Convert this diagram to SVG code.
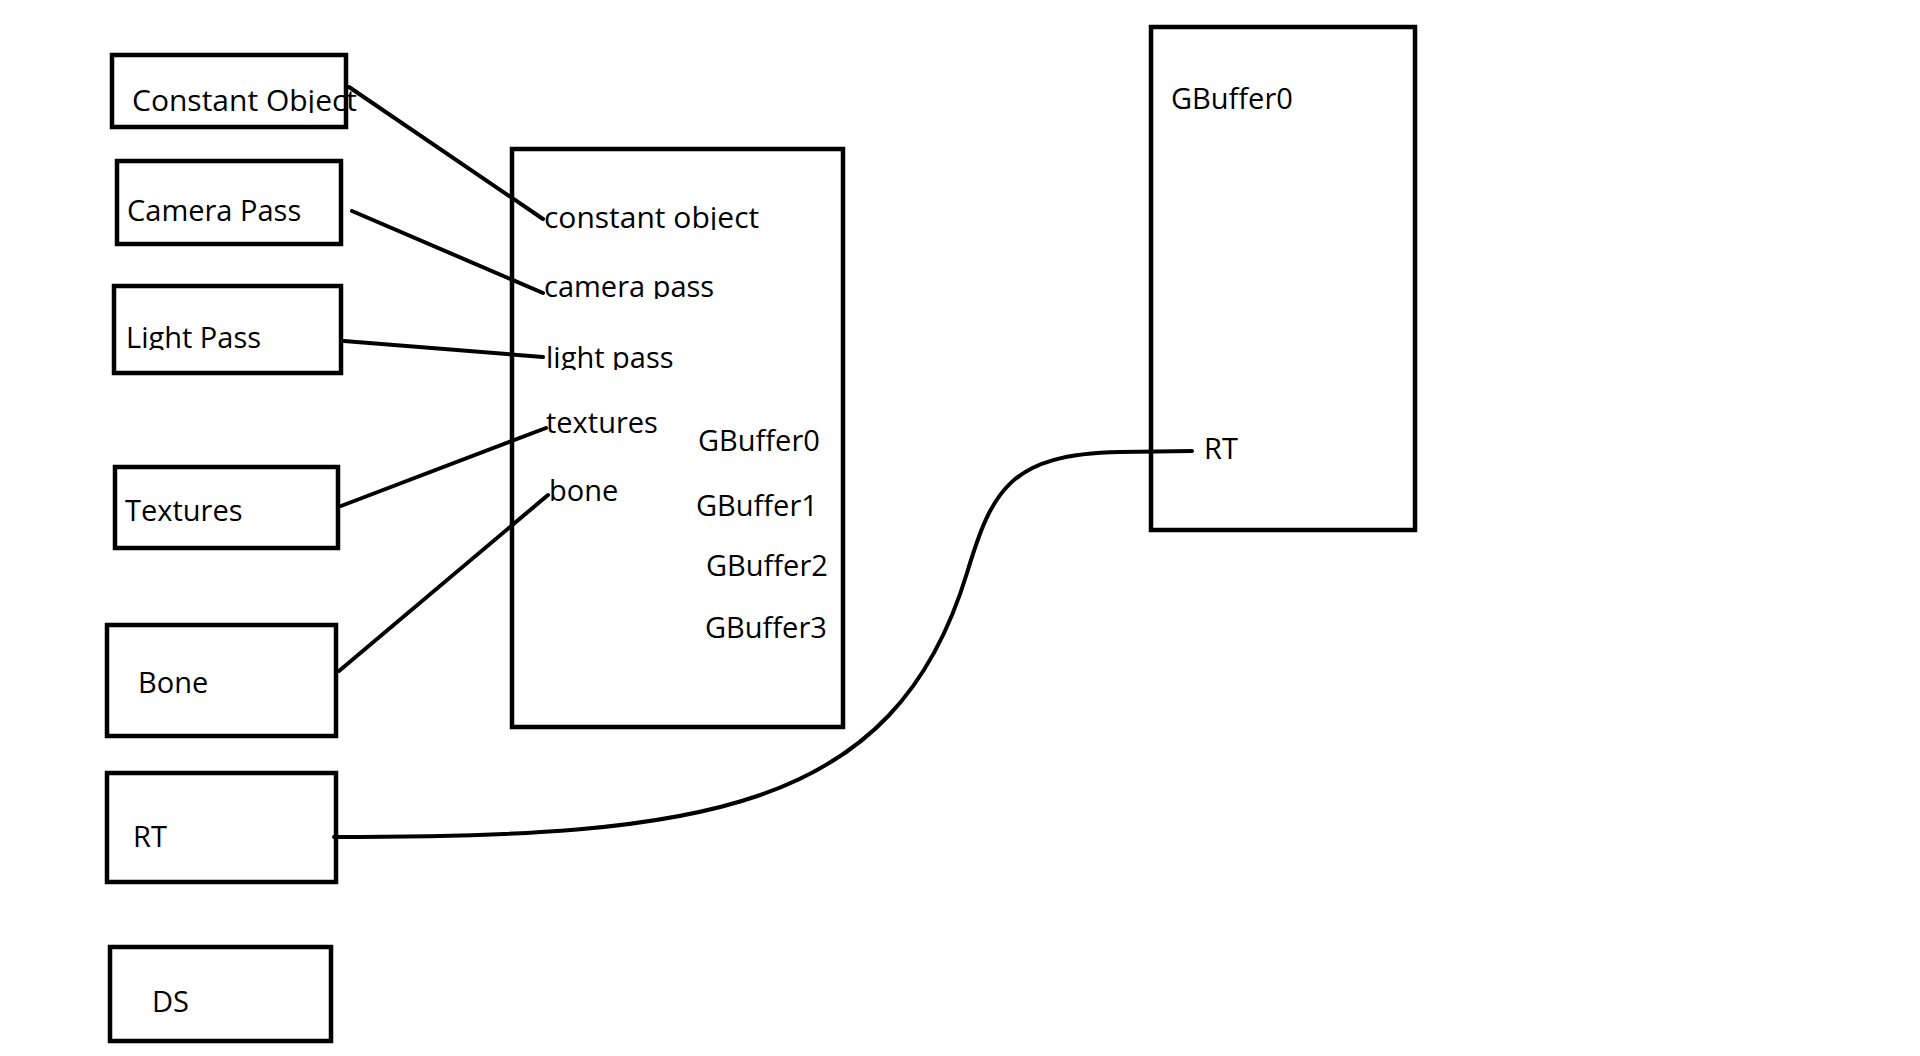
<svg xmlns="http://www.w3.org/2000/svg" width="1920" height="1056" viewBox="0 0 1920 1056">
<style>
.box{fill:none;stroke:#000;stroke-width:4.5}
.ln{fill:none;stroke:#000;stroke-width:4;stroke-linecap:round}
text{font-family:"Open Sans","Noto Sans","Liberation Sans",sans-serif;font-size:29px;fill:#000}
.w{font-size:30px}
</style>
<defs>
<clipPath id="c1"><rect x="100" y="60" width="300" height="53"/></clipPath>
<clipPath id="c2"><rect x="100" y="180" width="250" height="119"/></clipPath>
<clipPath id="c3"><rect x="100" y="300" width="250" height="50"/></clipPath>
<clipPath id="c4"><rect x="530" y="180" width="300" height="50"/></clipPath>
<clipPath id="c5"><rect x="530" y="250" width="300" height="49"/></clipPath>
<clipPath id="c6"><rect x="530" y="320" width="300" height="50"/></clipPath>
</defs>
<rect width="1920" height="1056" fill="#fff"/>
<g id="connectors">
<line class="ln" x1="349" y1="87" x2="543" y2="219"/>
<line class="ln" x1="352" y1="211" x2="543" y2="293"/>
<line class="ln" x1="344" y1="341" x2="543" y2="357"/>
<line class="ln" x1="341" y1="506" x2="546" y2="428"/>
<line class="ln" x1="339" y1="671" x2="548" y2="495"/>
<path class="ln" d="M334 837 C700 837 894 813 967 573 C992 490 1010 454 1120 452 L1192 451"/>
</g>
<g id="constant-object"><rect class="box" x="112" y="55" width="234" height="72"/><text class="w" x="132" y="111" clip-path="url(#c1)">Constant Object</text></g>
<g id="camera-pass"><rect class="box" x="117" y="161" width="224" height="83"/><text x="127" y="221" clip-path="url(#c2)">Camera Pass</text></g>
<g id="light-pass"><rect class="box" x="114" y="286" width="227" height="87"/><text x="126" y="348" clip-path="url(#c3)">Light Pass</text></g>
<g id="textures"><rect class="box" x="115" y="467" width="223" height="81"/><text x="125" y="521">Textures</text></g>
<g id="bone"><rect class="box" x="107" y="625" width="229" height="111"/><text x="138" y="693">Bone</text></g>
<g id="rt"><rect class="box" x="107" y="773" width="229" height="109"/><text x="133" y="847">RT</text></g>
<g id="ds"><rect class="box" x="110" y="947" width="221" height="94"/><text x="152" y="1012">DS</text></g>
<g id="pass-box">
<rect class="box" x="512" y="149" width="331" height="578"/>
<text class="w" x="544" y="228" clip-path="url(#c4)">constant object</text>
<text x="544" y="297" clip-path="url(#c5)">camera pass</text>
<text x="546" y="368" clip-path="url(#c6)">light pass</text>
<text x="546" y="433">textures</text>
<text x="549" y="501">bone</text>
<text x="698" y="451">GBuffer0</text>
<text x="696" y="516">GBuffer1</text>
<text x="706" y="576">GBuffer2</text>
<text x="705" y="638">GBuffer3</text>
</g>
<g id="output-box">
<rect class="box" x="1151" y="27" width="264" height="503"/>
<text x="1171" y="109">GBuffer0</text>
<text x="1204" y="459">RT</text>
</g>
</svg>
